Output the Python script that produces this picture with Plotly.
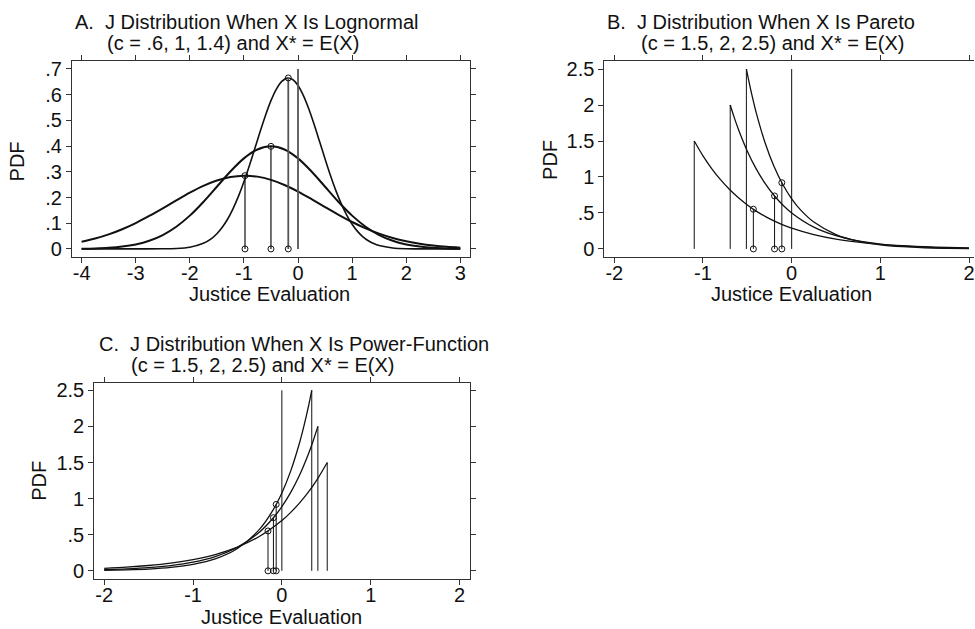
import plotly.graph_objects as go

W, H = 975, 629

# ---------------- Panel A: lognormal (c = .6, 1, 1.4) ----------------
a_x_c06 = [-4, -3, -2.5, -2.25, -2, -1.75, -1.6, -1.5, -1.4, -1.3, -1.2, -1.1, -1.0, -0.9, -0.8, -0.7,
           -0.6, -0.5, -0.4, -0.3, -0.2, -0.1, 0, 0.1, 0.2, 0.3, 0.4, 0.5, 0.6, 0.7, 0.8, 0.9, 1.0,
           1.1, 1.2, 1.3, 1.4, 1.5, 1.75, 2, 2.5, 3]
a_y_c06 = [0, 0, 0.0004, 0.0017, 0.0067, 0.0217, 0.0404, 0.0591, 0.0841, 0.1164, 0.1567, 0.2052,
           0.2613, 0.3237, 0.3898, 0.4567, 0.5204, 0.5767, 0.6217, 0.6517, 0.6645, 0.659, 0.6357,
           0.5963, 0.5441, 0.4828, 0.4168, 0.3499, 0.2856, 0.2268, 0.1751, 0.1316, 0.0961, 0.0683,
           0.0472, 0.0317, 0.0208, 0.0132, 0.0038, 0.0009, 0, 0]
a_x = [-4, -3.75, -3.5, -3.25, -3, -2.75, -2.5, -2.25, -2, -1.75, -1.5, -1.25, -1, -0.75, -0.5,
       -0.25, 0, 0.25, 0.5, 0.75, 1, 1.25, 1.5, 1.75, 2, 2.25, 2.5, 2.75, 3]
a_y_c1 = [0.0009, 0.002, 0.0044, 0.0091, 0.0175, 0.0317, 0.054, 0.0863, 0.1295, 0.1826, 0.242,
          0.3011, 0.3521, 0.3867, 0.3989, 0.3867, 0.3521, 0.3011, 0.242, 0.1826, 0.1295, 0.0863,
          0.054, 0.0317, 0.0175, 0.0091, 0.0044, 0.002, 0.0009]
a_y_c14 = [0.0278, 0.0402, 0.0564, 0.0766, 0.1006, 0.1282, 0.1581, 0.1889, 0.2186, 0.245, 0.266,
           0.2798, 0.285, 0.2812, 0.2687, 0.2488, 0.2231, 0.1937, 0.163, 0.1328, 0.1048, 0.0801,
           0.0593, 0.0426, 0.0296, 0.0199, 0.013, 0.0082, 0.005]
a_mean_x = [-0.98, -0.5, -0.18]
a_mean_y = [0.285, 0.399, 0.665]
a_ref_top = 0.7

# ---------------- Panel B: Pareto (c = 1.5, 2, 2.5) ----------------
b_x_c15 = [-1.0986, -1.0, -0.9, -0.8, -0.7, -0.6, -0.5, -0.4, -0.3, -0.2, -0.1, 0, 0.25, 0.5,
           0.75, 1, 1.25, 1.5, 1.75, 2]
b_y_c15 = [1.5, 1.294, 1.114, 0.959, 0.825, 0.710, 0.611, 0.526, 0.453, 0.390, 0.335, 0.289,
           0.199, 0.136, 0.094, 0.064, 0.044, 0.030, 0.021, 0.014]
b_x_c2 = [-0.6931, -0.65, -0.6, -0.5, -0.4, -0.3, -0.2, -0.1, 0, 0.25, 0.5, 0.75, 1, 1.25, 1.5,
          1.75, 2]
b_y_c2 = [2.0, 1.835, 1.660, 1.359, 1.113, 0.911, 0.746, 0.611, 0.5, 0.303, 0.184, 0.112, 0.068,
          0.041, 0.025, 0.015, 0.009]
b_x_c25 = [-0.5108, -0.45, -0.4, -0.3, -0.2, -0.1, 0, 0.1, 0.25, 0.5, 0.75, 1, 1.25, 1.5, 1.75, 2]
b_y_c25 = [2.5, 2.147, 1.895, 1.476, 1.149, 0.895, 0.697, 0.543, 0.373, 0.200, 0.107, 0.057,
           0.031, 0.016, 0.009, 0.005]
b_mean_x = [-0.432, -0.193, -0.111]
b_mean_y = [0.552, 0.736, 0.920]
b_ref_top = 2.5

# ---------------- Panel C: power-function (c = 1.5, 2, 2.5) ----------------
c_x_c15 = [-2, -1.75, -1.5, -1.25, -1, -0.75, -0.5, -0.25, 0, 0.1, 0.2, 0.3, 0.4, 0.5108]
c_y_c15 = [0.035, 0.051, 0.074, 0.107, 0.156, 0.226, 0.329, 0.479, 0.697, 0.810, 0.941, 1.093,
           1.270, 1.5]
c_x_c2 = [-2, -1.75, -1.5, -1.25, -1, -0.75, -0.5, -0.25, -0.1, 0, 0.1, 0.2, 0.3, 0.35, 0.4055]
c_y_c2 = [0.016, 0.027, 0.044, 0.073, 0.120, 0.198, 0.327, 0.539, 0.728, 0.889, 1.086, 1.326,
          1.620, 1.790, 2.0]
c_x_c25 = [-2, -1.75, -1.5, -1.25, -1, -0.75, -0.5, -0.25, -0.1, 0, 0.1, 0.2, 0.25, 0.3, 0.3365]
c_y_c25 = [0.007, 0.014, 0.025, 0.047, 0.089, 0.165, 0.309, 0.577, 0.840, 1.078, 1.384, 1.777,
           2.014, 2.282, 2.5]
c_mean_x = [-0.156, -0.095, -0.064]
c_mean_y = [0.552, 0.736, 0.920]
c_ref_top = 2.5

# tick labels
a_xticks = [-4, -3, -2, -1, 0, 1, 2, 3]
a_yticks = [0, 0.1, 0.2, 0.3, 0.4, 0.5, 0.6, 0.7]
a_yticktext = ["0", ".1", ".2", ".3", ".4", ".5", ".6", ".7"]
bc_xticks = [-2, -1, 0, 1, 2]
bc_yticks = [0, 0.5, 1, 1.5, 2, 2.5]
bc_yticktext = ["0", ".5", "1", "1.5", "2", "2.5"]

titles = {
    "A": ["A.  J Distribution When X Is Lognormal", "(c = .6, 1, 1.4) and X* = E(X)"],
    "B": ["B.  J Distribution When X Is Pareto", "(c = 1.5, 2, 2.5) and X* = E(X)"],
    "C": ["C.  J Distribution When X Is Power-Function", "(c = 1.5, 2, 2.5) and X* = E(X)"],
}
x_title = "Justice Evaluation"
y_title = "PDF"

FONT = "Liberation Sans, Arial, sans-serif"
FS = 20
INK = "#111111"
FRAME = "#333333"

fig = go.Figure()


def curve(x, y, ax, width, shape="spline"):
    xa, ya = ax
    fig.add_trace(go.Scatter(x=x, y=y, mode="lines", xaxis=xa, yaxis=ya, showlegend=False,
                             hoverinfo="skip",
                             line=dict(color=INK, width=width, shape=shape, smoothing=0.8)))


def segs(xs, ys, ax, width=1, color=INK, base=0):
    xa, ya = ax
    for xv, yv in zip(xs, ys):
        fig.add_trace(go.Scatter(x=[xv, xv], y=[base, yv], mode="lines", xaxis=xa, yaxis=ya,
                                 showlegend=False, hoverinfo="skip",
                                 line=dict(color=color, width=width)))


def circles(xs, ys, ax):
    xa, ya = ax
    fig.add_trace(go.Scatter(x=xs + xs, y=ys + [0] * len(ys), mode="markers", xaxis=xa, yaxis=ya,
                             showlegend=False, hoverinfo="skip",
                             marker=dict(symbol="circle-open", size=6, color=INK,
                                         line=dict(width=1, color=INK))))


A = ("x", "y")
B = ("x2", "y2")
C = ("x3", "y3")

# Panel A
curve(a_x, a_y_c14, A, 2)
curve(a_x, a_y_c1, A, 2)
curve(a_x_c06, a_y_c06, A, 1.6)
segs(a_mean_x[:2], a_mean_y[:2], A, 1.2)
segs(a_mean_x[2:], a_mean_y[2:], A, 1.8, "#555555")
segs([0], [a_ref_top], A, 1.8, "#555555")
circles(a_mean_x, a_mean_y, A)

# Panel B
curve(b_x_c15, b_y_c15, B, 1.3)
curve(b_x_c2, b_y_c2, B, 1.3)
curve(b_x_c25, b_y_c25, B, 1.3)
segs([b_x_c15[0], b_x_c2[0], b_x_c25[0]], [b_y_c15[0], b_y_c2[0], b_y_c25[0]], B, 1)
segs(b_mean_x, b_mean_y, B, 1)
segs([0], [b_ref_top], B, 1)
circles(b_mean_x, b_mean_y, B)

# Panel C
curve(c_x_c15, c_y_c15, C, 1.3)
curve(c_x_c2, c_y_c2, C, 1.3)
curve(c_x_c25, c_y_c25, C, 1.3)
segs([c_x_c15[-1], c_x_c2[-1], c_x_c25[-1]], [c_y_c15[-1], c_y_c2[-1], c_y_c25[-1]], C, 1)
segs(c_mean_x, c_mean_y, C, 1)
segs([0], [c_ref_top], C, 1)
circles(c_mean_x, c_mean_y, C)


def px(xp):
    return xp / W


def py(yp):
    return 1 - yp / H


tickfont = dict(family=FONT, size=FS, color=INK)


def xaxis(dom, rng, ticks):
    return dict(domain=dom, range=rng, tickvals=ticks, ticktext=[str(t) for t in ticks],
                showline=True, linecolor=FRAME, linewidth=1, mirror="ticks", ticks="outside",
                ticklen=5, tickcolor=FRAME, tickwidth=1, showgrid=False, zeroline=False,
                tickfont=tickfont, fixedrange=True, ticklabeloverflow="allow",
                ticklabelstandoff=-7)


def yaxis(dom, rng, ticks, text, anchor, mirror="ticks"):
    return dict(domain=dom, range=rng, tickvals=ticks, ticktext=text, anchor=anchor,
                showline=True, linecolor=FRAME, linewidth=1, mirror=mirror, ticks="outside",
                ticklen=5, tickcolor=FRAME, tickwidth=1, showgrid=False, zeroline=False,
                tickfont=tickfont, fixedrange=True, ticklabelstandoff=0)


fig.update_layout(
    width=W, height=H, margin=dict(l=0, r=0, t=0, b=0),
    paper_bgcolor="white", plot_bgcolor="white",
    font=dict(family=FONT, size=FS, color=INK),
    xaxis=dict(xaxis([px(72), px(470)], [-4.179, 3.17], a_xticks), anchor="y"),
    yaxis=yaxis([py(256), py(58.3)], [-0.0297, 0.732], a_yticks, a_yticktext, "x"),
    xaxis2=dict(xaxis([px(605), 1.0], [-2.112, 2.056], bc_xticks), anchor="y2"),
    yaxis2=yaxis([py(256), py(58.3)], [-0.106, 2.6155], bc_yticks, bc_yticktext, "x2", mirror=False),
    xaxis3=dict(xaxis([px(94.3), px(470)], [-2.1125, 2.1125], bc_xticks), anchor="y3"),
    yaxis3=yaxis([py(581.7), py(383.3)], [-0.115, 2.606], bc_yticks, bc_yticktext, "x3"),
)

ann = []


def text(t, xc, yc, angle=0):
    ann.append(dict(text=t, x=px(xc), y=py(yc), xref="paper", yref="paper", showarrow=False,
                    xanchor="center", yanchor="middle", textangle=angle,
                    font=dict(family=FONT, size=FS, color=INK)))


text(titles["A"][0], 247, 19)
text(titles["A"][1], 233, 40)
text(titles["B"][0], 761.7, 19)
text(titles["B"][1], 773, 40)
text(titles["C"][0], 294, 344.5)
text(titles["C"][1], 262.5, 365.5)

text(x_title, 270, 294)
text(x_title, 792.5, 294)
text(x_title, 282, 619.5)
text(y_title, 17, 160, -90)
text(y_title, 551, 158, -90)
text(y_title, 39.5, 482, -90)

fig.update_layout(annotations=ann)

fig.write_html("out.html", config={"displayModeBar": False},
               post_script="document.body.style.margin='0';document.body.style.overflow='hidden';")
